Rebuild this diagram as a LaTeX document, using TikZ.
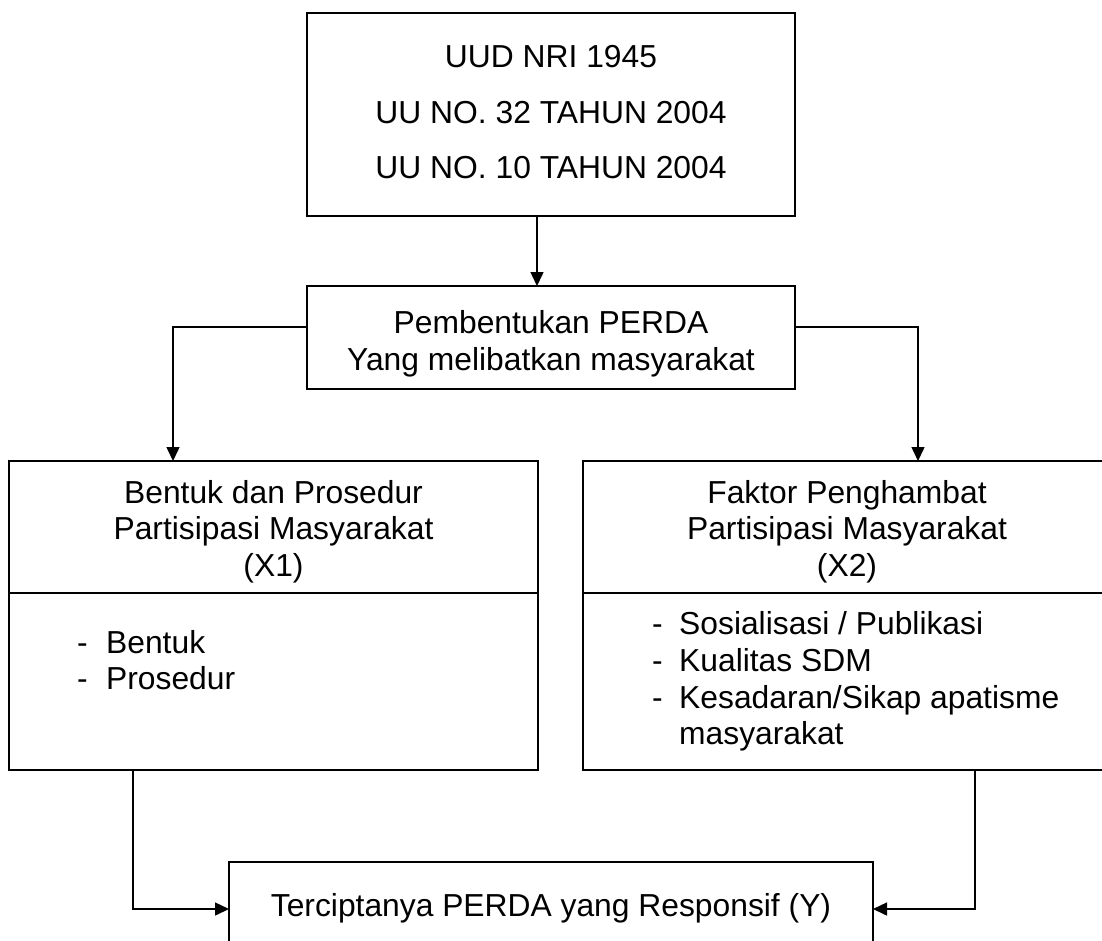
\documentclass[tikz,border=0pt]{standalone}
\usepackage{fontspec}
\setmainfont{Liberation Sans}
\usetikzlibrary{arrows.meta}
\begin{document}
\begin{tikzpicture}[x=1pt,y=-1pt,
  boxnode/.style={draw=black, line width=1.5pt, inner sep=0pt, outer sep=0pt, rectangle},
  txt/.style={inner sep=0pt, align=center, font=\fontsize{31.8}{36.5}\selectfont},
  item/.style={inner sep=0pt, anchor=base west, font=\fontsize{31.8}{36.5}\selectfont},
  arr/.style={line width=1.5pt, -{Triangle[length=14pt,width=13pt]}},
  divider/.style={line width=1.5pt}]
\useasboundingbox (0,0) rectangle (1102,940);
\fill[white] (0,0) rectangle (1102,940);
\clip (0,0) rectangle (1102,940);

% top box
\node[boxnode, minimum width=488pt, minimum height=203pt] (law) at (551,114.5) {};
\node[txt, font=\fontsize{31.8}{55.5}\selectfont] (lawtxt) at (551,112.5)
  {UUD NRI 1945\\UU NO. 32 TAHUN 2004\\UU NO. 10 TAHUN 2004};

% middle box
\node[boxnode, minimum width=488pt, minimum height=103pt] (perda) at (551,337.5) {};
\node[txt] (perdatxt) at (551,343.6) {Pembentukan PERDA\\Yang melibatkan masyarakat};

% left box
\node[boxnode, minimum width=529pt, minimum height=309pt] (xone) at (273.5,615.5) {};
\draw[divider] (xone.west |- 0,593) -- (xone.east |- 0,593);
\node[txt] (xonetxt) at (273.5,531.6) {Bentuk dan Prosedur\\Partisipasi Masyarakat\\(X1)};
\node[item] (xonea) at (77,653.4) {\makebox[29pt][l]{-}Bentuk};
\node[item] (xoneb) at (77,689.4) {\makebox[29pt][l]{-}Prosedur};

% right box
\node[boxnode, minimum width=528pt, minimum height=309pt] (xtwo) at (847,615.5) {};
\draw[divider] (xtwo.west |- 0,593) -- (xtwo.east |- 0,593);
\node[txt] (xtwotxt) at (847,531.6) {Faktor Penghambat\\Partisipasi Masyarakat\\(X2)};
\node[item] (xtwoa) at (652,634.4) {\makebox[27pt][l]{-}Sosialisasi / Publikasi};
\node[item] (xtwob) at (652,671.4) {\makebox[27pt][l]{-}Kualitas SDM};
\node[item] (xtwoc) at (652,708.4) {\makebox[27pt][l]{-}Kesadaran/Sikap apatisme};
\node[item] (xtwod) at (679,744.4) {masyarakat};

% bottom box
\node[boxnode, minimum width=644pt, minimum height=94pt] (ybox) at (551,909) {};
\node[inner sep=0pt, anchor=base, font=\fontsize{31.8}{36.5}\selectfont] (ytxt) at (551,916.4)
  {Terciptanya PERDA yang Responsif (Y)};

% connectors
\draw[arr] ([xshift=-14pt]law.south) -- ([xshift=-14pt]perda.north);
\draw[arr] ([yshift=10.5pt]perda.west) -| ([xshift=-100.5pt]xone.north);
\draw[arr] ([yshift=10.5pt]perda.east) -| ([xshift=71pt]xtwo.north);
\draw[arr] ([xshift=-140.5pt]xone.south) |- (ybox.west);
\draw[arr] ([xshift=128pt]xtwo.south) |- (ybox.east);
\end{tikzpicture}
\end{document}
